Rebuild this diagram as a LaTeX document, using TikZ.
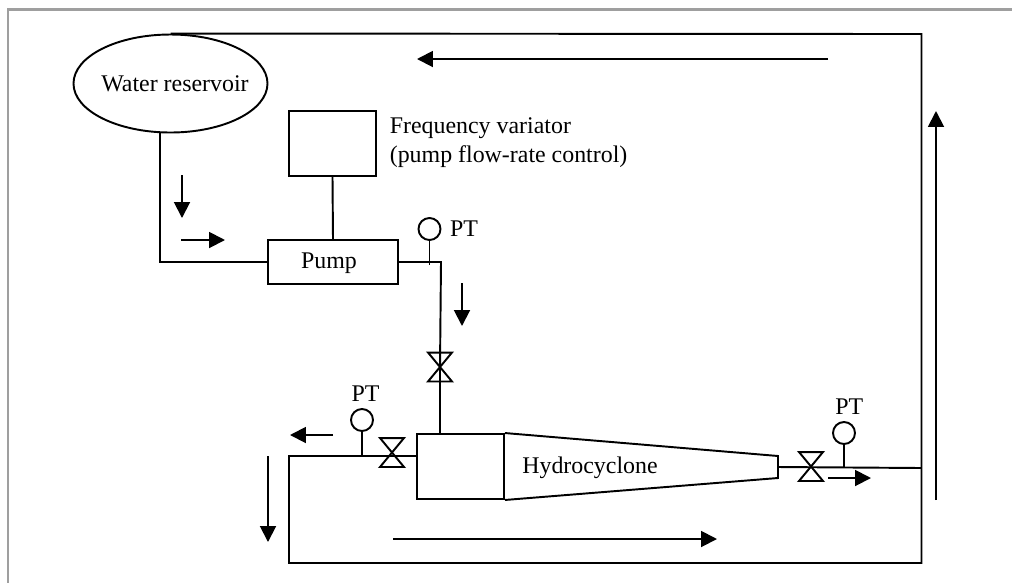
\documentclass[tikz,border=0pt]{standalone}
\usepackage{fontspec}
\setmainfont{Liberation Serif}
\usetikzlibrary{arrows.meta,shapes.geometric,positioning}

\begin{document}
\begin{tikzpicture}[x=0.02cm, y=-0.02cm, >={Stealth[length=9pt,width=9pt,inset=0pt]},
  font=\fontsize{13.6}{16.5}\selectfont, line width=1.1pt,
  box/.style={draw, rectangle, inner sep=0pt},
  gauge/.style={draw, circle, inner sep=0pt, minimum size=22*0.02cm},
  valve/.style={rectangle, inner sep=0pt, minimum width=22*0.02cm, minimum height=27*0.02cm},
  flow/.style={->, line width=1.1pt}]

\useasboundingbox (0,0) rectangle (1012,583);

% =========================================================
% Frame of the figure (only top and left edges show)
% =========================================================
\draw[gray!75, line width=1.7pt] (1012,9.5) -- (8,9.5) -- (8,583);

% =========================================================
% Equipment
% =========================================================
\node[draw, ellipse, inner sep=0pt, minimum width=194*0.02cm, minimum height=98*0.02cm]
  (reservoir) at (170.5,83.5) {};
\node (reservoirtext) at (175,84) {Water reservoir};

\node[box, minimum width=87*0.02cm, minimum height=65*0.02cm] (variator) at (332.5,143.5) {};
\node[right, align=left] (variatortext) at (383,143) {Frequency variator\\(pump flow-rate control)};

\node[box, minimum width=130*0.02cm, minimum height=44*0.02cm] (pump) at (333,262) {};
\node (pumptext) at (329,263) {Pump};

% Hydrocyclone: cylinder + cone
\node[box, minimum width=87*0.02cm, minimum height=65*0.02cm] (cylinder) at (460.5,466.5) {};
\coordinate (conetop) at (778,456);
\coordinate (conebot) at (778,478);
\draw (cylinder.north east) -- (conetop) -- (conebot) -- (cylinder.south east);
\node (cyclonetext) at (590,468) {Hydrocyclone};

% Valves
\node[valve] (valveA) at (440,367) {};
\node[valve] (valveB) at (392,452.5) {};
\node[valve] (valveC) at (811,466.5) {};
\foreach \v in {valveA, valveB, valveC}{
  \draw (\v.north west) -- (\v.north east) -- (\v.south west) -- (\v.south east) -- cycle;
}

% Pressure gauges
\node[gauge] (gaugeA) at (429.5,229) {};
\node[right=1pt of gaugeA] (ptA) {PT};
\node[gauge] (gaugeB) at (362,420) {};
\node[above=0pt of gaugeB, xshift=2pt] (ptB) {PT};
\node[gauge] (gaugeC) at (844,433) {};
\node[above=0pt of gaugeC, xshift=3pt] (ptC) {PT};

% =========================================================
% Pipes
% =========================================================
\coordinate (loopNE) at (921.5,34);
\coordinate (loopSE) at (921.5,563);
\coordinate (loopSW) at (289,563);
\coordinate (loopNW) at (289,456);
\coordinate (rejoin) at (921.5,468);

\draw (reservoir.north) -- (loopNE) -- (loopSE) -- (loopSW) -- (loopNW) -- (417,456);
\draw (160,133) -- (160,262) -- (pump.west);
\draw (variator.south) -- (pump.north);
\draw (pump.east) -- (441,262) -- (valveA.center);
\draw (valveA.center) -- (cylinder.north -| valveA.center);
\draw (778,467) -- (rejoin);

% Gauge stems
\draw (gaugeA.south) -- (429.5,265);
\draw (gaugeB.south) -- (362,456);
\draw (gaugeC.south) -- (844,467);

% =========================================================
% Flow direction arrows
% =========================================================
\draw[flow] (828,59) -- (417,59);
\draw[flow] (936,500) -- (936,111);
\draw[flow] (393,539) -- (717,539);
\draw[flow] (268,456) -- (268,542);
\draw[flow] (333,435) -- (290,435);
\draw[flow] (828,478) -- (871,478);
\draw[flow] (182,175) -- (182,218);
\draw[flow] (181,240) -- (225,240);
\draw[flow] (462,283) -- (462,326);

\end{tikzpicture}
\end{document}
